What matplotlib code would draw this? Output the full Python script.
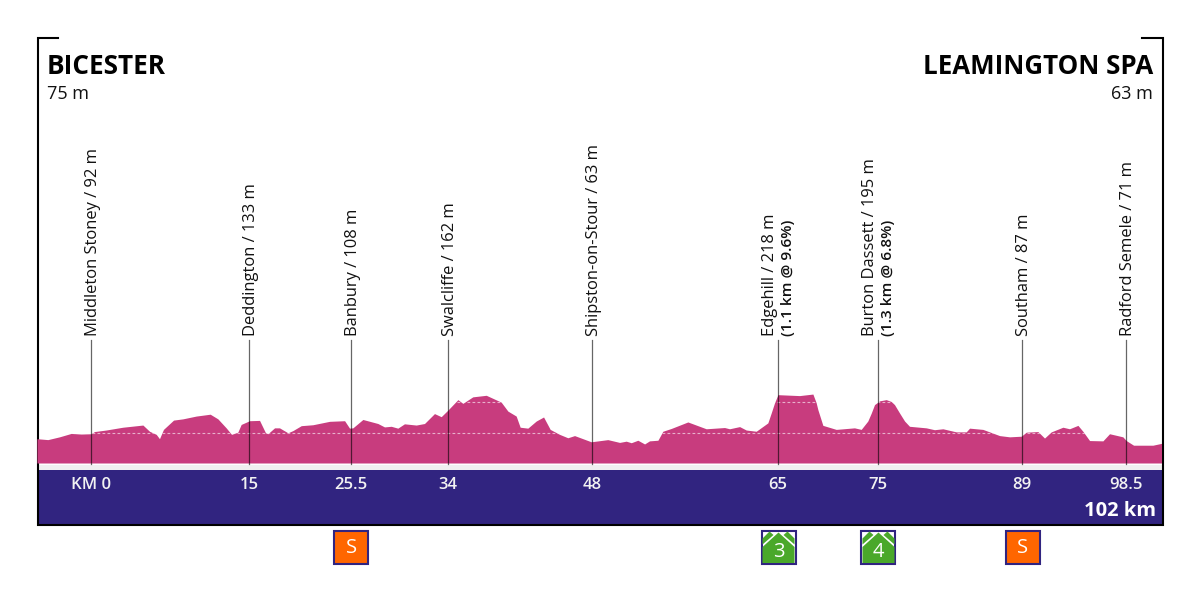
import matplotlib
matplotlib.use('Agg')
import matplotlib.pyplot as plt
from matplotlib.patches import Rectangle, Polygon

plt.rcParams['font.family'] = ['Open Sans', 'DejaVu Sans']

# elevation profile, km / metres
profile_km = [-5.1, -4.06, -2.95, -1.84, -0.89, 0.06, 0.38, 1.49, 3.08, 4.99, 5.62, 6.26, 6.57, 6.95, 7.91, 8.8,
              10.07, 11.4, 12.13, 12.92, 13.43, 14.03, 14.35, 15.15, 16.1, 16.67, 16.89, 17.53, 18.0, 18.8, 19.27,
              20.07, 21.18, 22.77, 24.2, 24.67, 24.99, 25.94, 27.37, 28.0, 28.64, 29.27, 29.9, 31.02, 31.81, 32.76,
              33.4, 34.03, 34.99, 35.46, 36.41, 37.69, 39.11, 39.75, 40.54, 40.92, 41.65, 42.45, 43.15, 43.78,
              44.67, 45.46, 46.1, 47.69, 49.27, 50.39, 51.02, 51.5, 52.13, 52.77, 53.24, 54.04, 54.51, 55.31,
              56.89, 58.64, 60.39, 60.86, 61.82, 62.45, 63.4, 64.51, 64.83, 65.15, 65.47, 67.53, 68.8, 69.11,
              69.27, 69.75, 71.02, 72.76, 73.4, 74.03, 74.35, 74.67, 75.15, 75.78, 76.26, 76.57, 77.05, 77.53,
              78.0, 79.59, 80.38, 81.18, 82.45, 83.4, 83.72, 84.99, 86.58, 87.53, 88.64, 89.12, 90.23, 90.86,
              91.5, 92.61, 93.24, 94.04, 94.51, 95.15, 96.42, 97.05, 98.32, 98.64, 99.34, 101.18, 102.0]
profile_m = [80, 77, 86, 97, 95, 96, 103, 108, 117, 124, 104, 94, 80, 110, 140, 144,
             153, 159, 144, 115, 94, 101, 126, 138, 139, 99, 96, 115, 115, 99, 106,
             122, 125, 136, 138, 114, 115, 142, 129, 118, 120, 114, 128, 124, 129, 161,
             151, 172, 206, 194, 215, 220, 198, 169, 153, 117, 114, 137, 150, 110,
             94, 83, 90, 70, 77, 68, 72, 67, 75, 63, 73, 75, 104, 113,
             134, 112, 116, 112, 119, 108, 104, 131, 163, 196, 222, 219, 224, 196,
             174, 123, 110, 115, 110, 137, 162, 190, 202, 206, 200, 190, 163, 137,
             120, 115, 109, 112, 102, 102, 114, 110, 90, 86, 88, 101, 103, 82,
             102, 117, 112, 123, 104, 74, 73, 96, 86, 74, 59, 59, 65]

# places along the route
place_km = [0, 15.05, 24.76, 34, 47.7, 65.43, 74.95, 88.67, 98.57]
km_labels = ['KM 0', '15', '25.5', '34', '48', '65', '75', '89', '98.5']
place_names = ['Middleton Stoney / 92 m', 'Deddington / 133 m', 'Banbury / 108 m', 'Swalcliffe / 162 m',
               'Shipston-on-Stour / 63 m', 'Edgehill / 218 m', 'Burton Dassett / 195 m', 'Southam / 87 m',
               'Radford Semele / 71 m']
climb_notes = {5: '(1.1 km @ 9.6%)', 6: '(1.3 km @ 6.8%)'}

icon_km = [24.76, 65.43, 74.95, 88.67]
icon_labels = ['S', '3', '4', 'S']

PINK = '#c83c7e'
NAVY = '#312480'
ORANGE = '#ff6600'
GREEN = '#4aa82a'

PX_PER_KM = 10.5
PX_PER_M = 0.31


# picture pixels -> km / metres, for the furniture around the profile
def px(x):
    return (x - 91) / PX_PER_KM


def py(y):
    return (464 - y) / PX_PER_M


def pixel_poly(points, color, z=4):
    return Polygon([(px(a), py(b)) for a, b in points], closed=True, fc=color, ec='none', zorder=z)


fig = plt.figure(figsize=(12, 6), dpi=100)
ax = fig.add_axes([0, 0, 1, 1])
ax.set_xlim(px(0), px(1200))
ax.set_ylim(py(600), py(0))
ax.axis('off')

# bottom bar and the thin band above it
ax.add_patch(Rectangle((px(38), py(469.5)), px(1162) - px(38), py(525) - py(469.5), fc=NAVY, ec='none', zorder=2))
ax.add_patch(Rectangle((px(38), py(469.5)), px(1162) - px(38), py(465) - py(469.5), fc='#f0f0f0', ec='none', zorder=2))

# frame
ax.plot([px(58), px(38), px(38), px(1163), px(1163), px(1142)],
        [py(38), py(38), py(525), py(525), py(38), py(38)], color='black', lw=1.5, zorder=3,
        solid_joinstyle='miter')

# profile
base_m = py(463.5)
outline = list(zip(profile_km, profile_m)) + [(profile_km[-1], base_m), (profile_km[0], base_m)]
hill = Polygon(outline, closed=True, fc=PINK, ec='none', zorder=4)
ax.add_patch(hill)

for level in [100, 200]:
    line, = ax.plot(profile_km[:1] + profile_km[-1:], [level, level], color='white', lw=0.8, alpha=0.6,
                    ls=(0, (2.5, 2)), zorder=5)
    line.set_clip_path(hill)

# place stems and labels
for i, km in enumerate(place_km):
    ax.plot([km, km], [base_m, py(340)], color='black', lw=0.9, alpha=0.6, zorder=6)
    if i in climb_notes:
        ax.text(km - 0.75, py(335.5), place_names[i], rotation=90, ha='center', va='bottom', fontsize=11.9,
                color='#111111')
        ax.text(km + 0.95, py(335.5), climb_notes[i], rotation=90, ha='center', va='bottom', fontsize=11.1,
                fontweight='semibold', color='#111111')
    else:
        ax.text(km + 0.22, py(335.5), place_names[i], rotation=90, ha='center', va='bottom', fontsize=11.9,
                color='#111111')
    ax.text(km, py(485), km_labels[i], ha='center', va='center', fontsize=12, fontweight='semibold',
            color='#f2f2f2', zorder=6)

ax.text(px(1156), py(510.5), '102 km', ha='right', va='center', fontsize=14.5, fontweight='bold', color='white',
        zorder=6)

# start and finish
ax.text(px(47), py(67), 'BICESTER', ha='left', va='center', fontsize=18.8, fontweight='bold', color='black')
ax.text(px(47), py(94), '75 m', ha='left', va='center', fontsize=13, color='#111111')
ax.text(px(1153), py(67), 'LEAMINGTON SPA', ha='right', va='center', fontsize=18.6, fontweight='bold',
        color='black')
ax.text(px(1153), py(94), '63 m', ha='right', va='center', fontsize=13, color='#111111')

# sprint and climb icons
for km, label in zip(icon_km, icon_labels):
    cx = km * PX_PER_KM + 91.5
    x0, x1, y0, y1 = cx - 17, cx + 17, 530.5, 564
    sprint = label == 'S'
    ax.add_patch(Rectangle((px(x0), py(y1)), px(x1) - px(x0), py(y0) - py(y1), fc=ORANGE if sprint else 'white',
                           ec=NAVY, lw=1.5, zorder=3))
    if not sprint:
        ax.add_patch(pixel_poly([(x0 + 1, y1 - 1), (x1 - 1, y1 - 1), (x1 - 1, y0 + 16.5), (cx, y0 + 2),
                                 (x0 + 1, y0 + 16.5)], GREEN))
        for side in (-1, 1):
            ax.add_patch(pixel_poly([(cx + side * 16, y0 + 8), (cx + side * 9, y0 + 1), (cx + side * 5, y0 + 4.5),
                                     (cx + side * 16, y0 + 14)], GREEN))
    ax.text(km + 0.05, py(548 if sprint else 552), label, ha='center', va='center', fontsize=14.5, color='white',
            zorder=6)

fig.savefig('out.png', dpi=100)
